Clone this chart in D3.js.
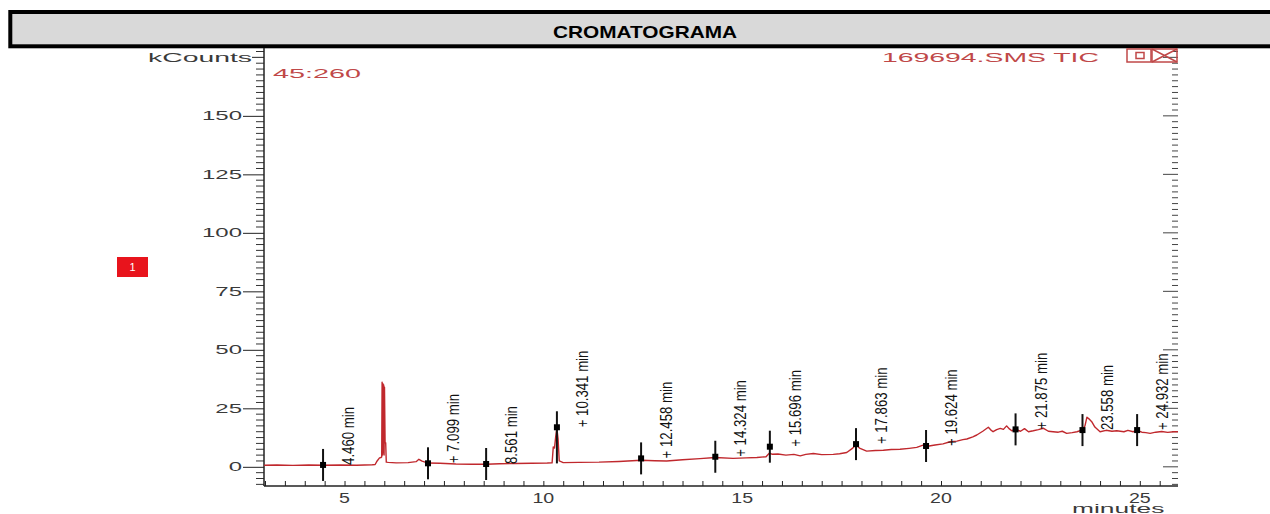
<!DOCTYPE html>
<html>
<head>
<meta charset="utf-8">
<script src="https://cdn.jsdelivr.net/npm/d3@7"></script>
<style>
  body { margin: 0; background: #fff; }
  svg { display: block; font-family: Arial, "Liberation Sans", sans-serif; }
</style>
</head>
<body>
<svg id="chart"></svg>
<script>
// trace (minutes, kCounts)
const times = [2.98, 3.3, 3.7, 4.1, 4.46, 4.9, 5.3, 5.7, 5.77, 5.82, 5.88, 5.92, 5.935,
  5.945, 5.955, 5.965, 5.975, 5.985, 5.995, 6.005, 6.02, 6.035, 6.05, 6.1, 6.3, 6.6, 6.8, 6.87, 6.95,
  7.1, 7.4, 7.8, 8.2, 8.56, 8.9, 9.3, 9.7, 10.1, 10.22, 10.25, 10.28, 10.31, 10.34,
  10.37, 10.4, 10.5, 10.9, 11.4, 11.9, 12.46, 12.8, 13.1, 13.5, 13.94, 14.32, 14.77,
  15.1, 15.37, 15.6, 15.68, 15.75, 15.9, 16.1, 16.3, 16.46, 16.6, 16.79, 17.0, 17.29,
  17.45, 17.63, 17.78, 17.86, 17.95, 18.13, 18.35, 18.55, 18.75, 18.97, 19.2, 19.39,
  19.55, 19.7, 19.85, 20.05, 20.23, 20.4, 20.55, 20.65, 20.8, 20.9, 21.05, 21.19,
  21.25, 21.31, 21.4, 21.49, 21.57, 21.65, 21.72, 21.78, 21.88, 22.0, 22.1, 22.2,
  22.32, 22.45, 22.57, 22.7, 22.82, 22.95, 23.05, 23.16, 23.3, 23.42, 23.56, 23.62,
  23.67, 23.72, 23.79, 23.87, 24.0, 24.15, 24.3, 24.42, 24.6, 24.7, 24.83, 24.93,
  25.05, 25.15, 25.26, 25.4, 25.55, 25.7, 25.85, 25.96];
const counts = [0.7, 0.8, 0.6, 0.8, 0.7, 0.8, 0.7, 0.9, 1.0, 2.5, 3.8, 4.0, 4.2,
  36.2, 5, 35.5, 6, 35, 5, 34, 10.3, 10.3, 2.0, 1.9, 1.7, 1.8, 2.2, 3.2, 2.4,
  1.6, 1.5, 1.2, 1.1, 1.1, 1.3, 1.4, 1.5, 1.6, 1.7, 8.5, 8.0, 12.8, 16.5,
  12.0, 2.5, 1.8, 1.9, 2.0, 2.3, 2.8, 2.6, 2.5, 3.0, 3.5, 4.0, 3.6,
  3.8, 4.0, 4.3, 5.8, 5.4, 5.5, 5.0, 5.3, 4.7, 5.3, 5.7, 5.2, 5.3,
  5.6, 6.1, 8.0, 9.5, 8.0, 6.7, 7.0, 7.1, 7.4, 7.5, 7.9, 8.3,
  9.3, 8.9, 9.3, 9.8, 10.7, 11.0, 11.6, 11.9, 12.8, 13.6, 15.2, 16.9,
  15.8, 15.0, 15.9, 16.4, 16.0, 17.5, 16.2, 15.4, 16.0, 15.2, 16.3, 15.0,
  15.4, 15.9, 16.5, 15.2, 15.0, 14.8, 15.2, 14.3, 14.6, 15.0, 15.8, 17.5,
  21.2, 20.5, 19.3, 17.0, 15.0, 15.6, 15.2, 15.4, 15.0, 15.6, 15.0, 15.6,
  14.8, 14.6, 14.3, 14.8, 15.1, 14.7, 15.0, 15.0];

// peak annotations
const peakTimes = [4.460, 7.099, 8.561, 10.341, 12.458, 14.324, 15.696, 17.863, 19.624, 21.875, 23.558, 24.932];
const peakLabels = ['4.460 min', '+ 7.099 min', '8.561 min', '+ 10.341 min', '+ 12.458 min', '+ 14.324 min',
  '+ 15.696 min', '+ 17.863 min', '+ 19.624 min', '+ 21.875 min', '23.558 min', '+ 24.932 min'];
const peakMarks = [0.8, 1.5, 1.2, 16.9, 3.6, 4.3, 8.6, 9.7, 8.9, 16.0, 15.7, 15.7];
const peakBase = [0.8, 1.5, 1.2, 8.3, 3.6, 4.3, 8.6, 9.7, 8.9, 16.0, 15.7, 15.7];

// axes
const xTicks = [5, 10, 15, 20, 25];
const yTicks = [0, 25, 50, 75, 100, 125, 150];
const yTopLabel = 'kCounts';
const yTopValue = 175;
const xTitle = 'minutes';
const chartTitle = 'CROMATOGRAMA';
const ionLabel = '45:260';
const fileLabel = '169694.SMS TIC';

class Chromatogram {
  constructor(_config) {
    this.config = {
      parentElement: _config.parentElement,
      containerWidth: _config.containerWidth || 1270,
      containerHeight: _config.containerHeight || 514,
      margin: { top: 48, bottom: 28, right: 92, left: 264 }
    }
    this.initVis();
  }

  initVis() {
    let vis = this;
    vis.width = vis.config.containerWidth - vis.config.margin.left - vis.config.margin.right;
    vis.height = vis.config.containerHeight - vis.config.margin.top - vis.config.margin.bottom;

    vis.svg = d3.select(vis.config.parentElement)
        .attr('width', vis.config.containerWidth)
        .attr('height', vis.config.containerHeight);

    // title bar
    vis.svg.append('rect')
        .attr('x', 10.3).attr('y', 12)
        .attr('width', 1300).attr('height', 34.3)
        .attr('fill', '#d9d9d9')
        .attr('stroke', '#000')
        .attr('stroke-width', 4);
    vis.svg.append('g')
        .attr('transform', 'translate(645,38) scale(1.3,1)')
      .append('text')
        .attr('text-anchor', 'middle')
        .attr('font-weight', 'bold')
        .attr('font-size', 16)
        .text(chartTitle);

    vis.chart = vis.svg.append('g')
        .attr('transform', `translate(${vis.config.margin.left},${vis.config.margin.top})`);

    vis.x = d3.scaleLinear().domain([2.975, 25.96]).range([0, vis.width]);
    vis.y = d3.scaleLinear().domain([-8.2, 179]).range([vis.height, 0]);

    vis.updateVis();
  }

  updateVis() {
    let vis = this;
    let x = vis.x, y = vis.y;

    // minor y ticks, left and right
    let minorY = d3.range(-7.5, 179, 2.5).filter(d => d % 25 !== 0);
    vis.chart.selectAll('.minor-left')
      .data(minorY)
      .join('line')
        .attr('class', 'minor-left')
        .attr('x1', -8).attr('x2', 0)
        .attr('y1', d => y(d)).attr('y2', d => y(d))
        .attr('stroke', '#333');
    vis.chart.selectAll('.minor-right')
      .data(minorY)
      .join('line')
        .attr('class', 'minor-right')
        .attr('x1', vis.width - 6).attr('x2', vis.width)
        .attr('y1', d => y(d)).attr('y2', d => y(d))
        .attr('stroke', '#444');
    vis.chart.selectAll('.major-right')
      .data(yTicks.concat([yTopValue]))
      .join('line')
        .attr('class', 'major-right')
        .attr('x1', vis.width - 15).attr('x2', vis.width)
        .attr('y1', d => y(d)).attr('y2', d => y(d))
        .attr('stroke', '#444');

    // left axis, labels drawn separately because the scan is stretched sideways
    let yAxis = vis.chart.append('g')
        .attr('class', 'y-axis')
        .call(d3.axisLeft(y).tickValues(yTicks).tickSize(21).tickFormat(''));
    yAxis.select('.domain').attr('stroke', '#222').attr('stroke-width', 1.5)
        .attr('d', `M0,0V${vis.height}`);
    yAxis.selectAll('.tick line').attr('stroke', '#222');
    vis.chart.selectAll('.y-label')
      .data(yTicks)
      .join('g')
        .attr('class', 'y-label')
        .attr('transform', d => `translate(-22,${y(d)}) scale(1.92,1)`)
      .append('text')
        .attr('dy', '0.36em')
        .attr('text-anchor', 'end')
        .attr('font-size', 12.5)
        .attr('fill', '#3a3a3a')
        .text(d => d);
    vis.chart.append('line')
        .attr('x1', -12).attr('x2', 0)
        .attr('y1', y(yTopValue)).attr('y2', y(yTopValue))
        .attr('stroke', '#222');
    vis.chart.append('g')
        .attr('transform', `translate(-12,${y(yTopValue)}) scale(2.27,1)`)
      .append('text')
        .attr('dy', '0.36em')
        .attr('text-anchor', 'end')
        .attr('font-size', 12.5)
        .attr('fill', '#3a3a3a')
        .text(yTopLabel);

    // bottom axis, ticks point up
    let xAxis = vis.chart.append('g')
        .attr('class', 'x-axis')
        .attr('transform', `translate(0,${vis.height})`)
        .call(d3.axisBottom(x).tickValues(d3.range(3, 26, 0.5)).tickSize(-5).tickFormat(''));
    xAxis.select('.domain').attr('stroke', '#222').attr('stroke-width', 1.5)
        .attr('d', `M0,0H${vis.width}`);
    xAxis.selectAll('.tick line').attr('stroke', '#222');
    vis.chart.selectAll('.x-label')
      .data(xTicks)
      .join('g')
        .attr('class', 'x-label')
        .attr('transform', d => `translate(${x(d)},${vis.height + 17}) scale(1.4,1)`)
      .append('text')
        .attr('text-anchor', 'middle')
        .attr('font-size', 14)
        .attr('fill', '#3a3a3a')
        .text(d => d);

    vis.svg.append('g')
        .attr('transform', 'translate(1072,512.5) scale(2.2,1)')
      .append('text')
        .attr('font-size', 12)
        .attr('fill', '#3a3a3a')
        .text(xTitle);

    // trace
    let trace = times.map((t, i) => [t, counts[i]]);
    vis.chart.append('path')
        .datum(trace)
        .attr('fill', 'none')
        .attr('stroke', '#c0282d')
        .attr('stroke-width', 1.4)
        .attr('stroke-linejoin', 'round')
        .attr('d', d3.line().x(d => x(d[0])).y(d => y(d[1])));

    // peak markers
    let peaks = peakTimes.map((t, i) => ({ t: t, label: peakLabels[i], mark: peakMarks[i], base: peakBase[i] }));
    let pk = vis.chart.selectAll('.peak')
      .data(peaks)
      .join('g')
        .attr('class', 'peak');
    pk.append('line')
        .attr('x1', d => x(d.t)).attr('x2', d => x(d.t))
        .attr('y1', d => y(d.mark) - 16)
        .attr('y2', d => y(d.base) + 16)
        .attr('stroke', '#111')
        .attr('stroke-width', 2);
    pk.append('rect')
        .attr('x', d => x(d.t) - 3).attr('y', d => y(d.mark) - 3)
        .attr('width', 6).attr('height', 6)
        .attr('fill', '#000');
    pk.append('g')
        .attr('transform', d => `translate(${x(d.t) + 31},${y(d.mark)}) rotate(-90) scale(0.8,1)`)
      .append('text')
        .attr('font-size', 16.5)
        .attr('fill', '#111')
        .text(d => d.label);

    // red labels in the plot corner
    vis.svg.append('g')
        .attr('transform', 'translate(273,78.3) scale(2.3,1)')
      .append('text')
        .attr('font-size', 12.5)
        .attr('fill', '#c04848')
        .text(ionLabel);
    vis.svg.append('g')
        .attr('transform', 'translate(882,61.7) scale(2.27,1)')
      .append('text')
        .attr('font-size', 12.5)
        .attr('fill', '#c04848')
        .text(fileLabel);

    // window buttons
    let icons = vis.svg.append('g')
        .attr('fill', 'none')
        .attr('stroke', '#c04848')
        .attr('stroke-width', 1.5);
    icons.append('rect').attr('x', 1127).attr('y', 49).attr('width', 24).attr('height', 13);
    icons.append('rect').attr('x', 1136).attr('y', 52.5).attr('width', 8).attr('height', 6);
    icons.append('rect').attr('x', 1152).attr('y', 49).attr('width', 25).attr('height', 13);
    icons.append('path').attr('d', 'M1152,49L1177,62M1177,49L1152,62');

    // red trace-number tag
    vis.svg.append('rect')
        .attr('x', 117).attr('y', 257)
        .attr('width', 31).attr('height', 20)
        .attr('fill', '#e8141c');
    vis.svg.append('text')
        .attr('x', 132.5).attr('y', 271)
        .attr('text-anchor', 'middle')
        .attr('font-size', 11)
        .attr('fill', '#fff')
        .text('1');
  }
}

let chromatogram = new Chromatogram({ parentElement: '#chart' });
</script>
</body>
</html>
